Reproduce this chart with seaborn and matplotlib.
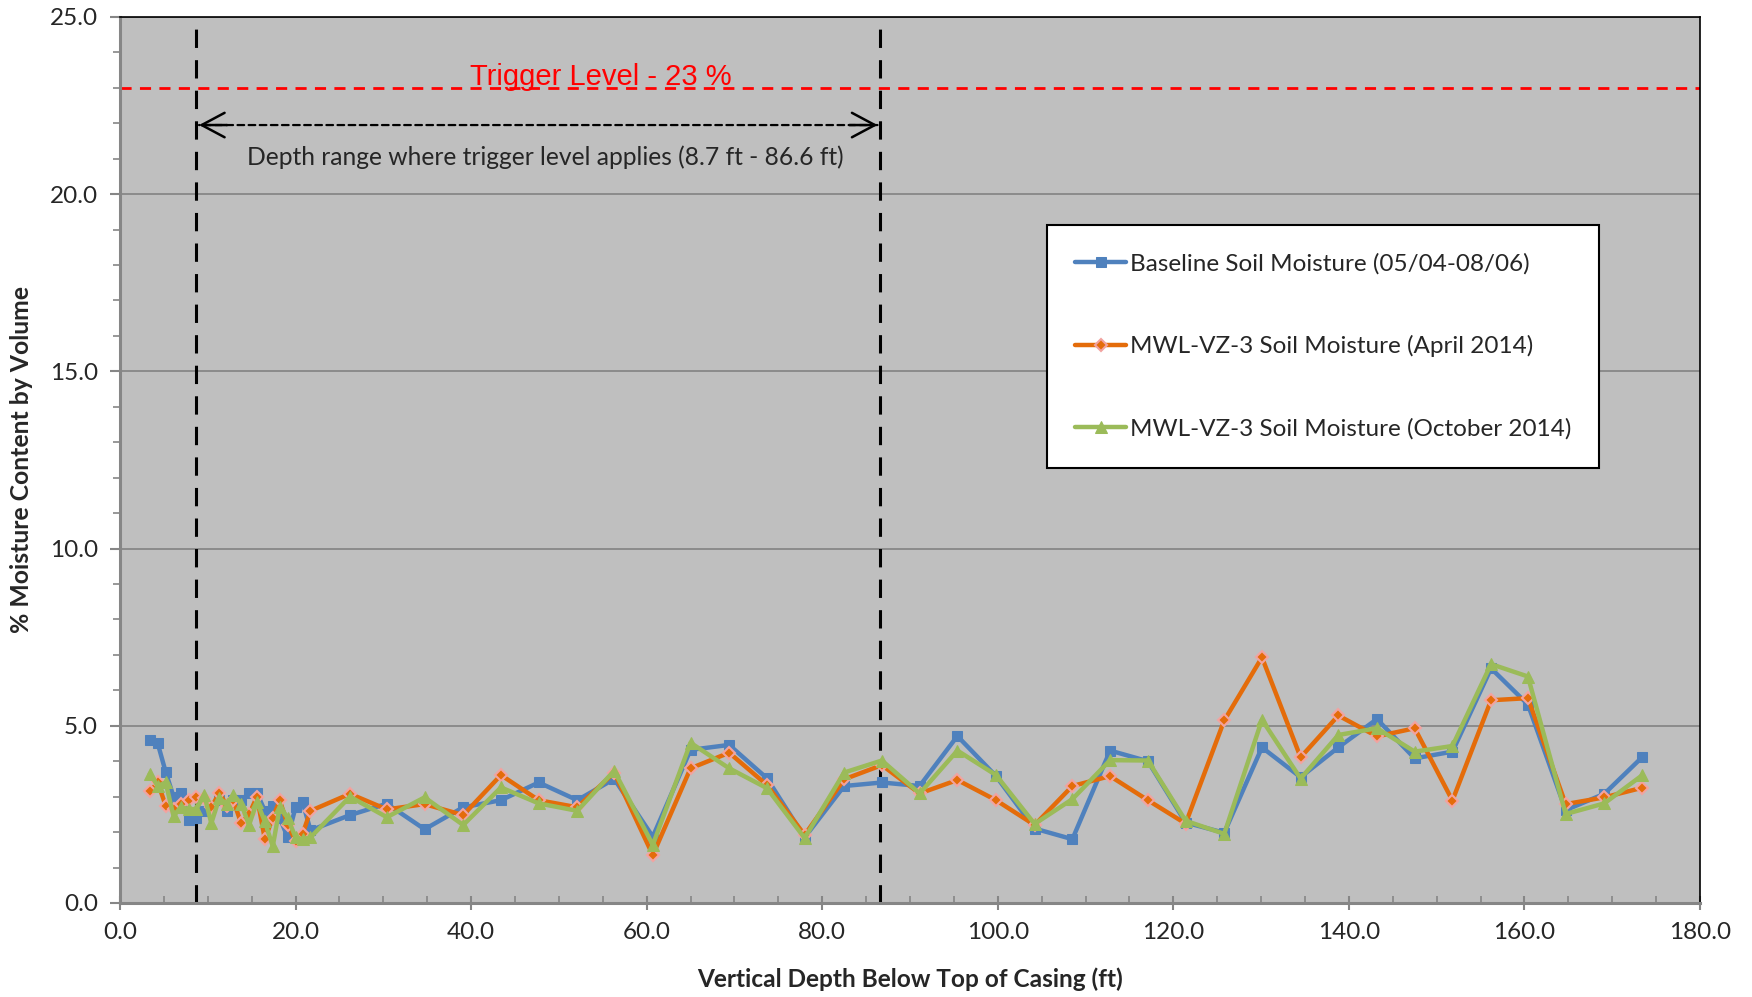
import seaborn as sns
import matplotlib.pyplot as plt
import matplotlib.ticker as mticker
import pandas as pd

# Profundidades (ft) y humedad (%)
depth = [3.4, 4.3, 5.2, 6.1, 6.9, 7.9, 8.7, 9.6, 10.4, 11.3, 12.2, 12.9, 13.8, 14.7,
         15.6, 16.5, 17.4, 18.2, 19.1, 20.0, 20.8, 21.7, 26.2, 30.4, 34.7, 39.1, 43.4,
         47.7, 52.1, 56.3, 60.7, 65.0, 69.4, 73.7, 78.0, 82.5, 86.8, 91.1, 95.4, 99.8,
         104.2, 108.5, 112.8, 117.1, 121.4, 125.8, 130.1, 134.5, 138.8, 143.2, 147.5,
         151.8, 156.2, 160.4, 164.7, 169.1, 173.4]

baseline = [4.6, 4.5, 3.7, 3.0, 3.1, 2.35, 2.4, 2.6, 2.7, 2.9, 2.6, 2.9, 2.9, 3.1,
            3.1, 2.6, 2.75, 2.4, 1.85, 2.7, 2.85, 2.05, 2.48, 2.8, 2.08, 2.7, 2.9,
            3.4, 2.9, 3.5, 1.87, 4.32, 4.46, 3.52, 1.85, 3.3, 3.4, 3.3, 4.71, 3.58,
            2.1, 1.8, 4.3, 4.0, 2.27, 1.98, 4.39, 3.55, 4.39, 5.19, 4.08,
            4.27, 6.62, 5.6, 2.62, 3.08, 4.11]

april = [3.15, 3.4, 2.75, 2.65, 2.8, 2.9, 3.0, 2.95, 2.7, 3.1, 2.75, 2.9, 2.25, 2.5,
         3.0, 1.8, 2.4, 2.9, 2.2, 1.75, 1.95, 2.6, 3.08, 2.64, 2.79, 2.48, 3.61,
         2.9, 2.7, 3.68, 1.35, 3.8, 4.24, 3.33, 1.92, 3.49, 3.89, 3.09, 3.47, 2.9,
         2.2, 3.3, 3.58, 2.9, 2.24, 5.15, 6.93, 4.11, 5.29, 4.7, 4.93,
         2.89, 5.72, 5.78, 2.79, 2.98, 3.25]

october = [3.65, 3.3, 3.4, 2.45, 2.7, 2.65, 2.65, 3.05, 2.25, 2.95, 2.8, 3.05, 2.8, 2.2,
           2.85, 2.3, 1.6, 2.7, 2.4, 1.85, 1.8, 1.85, 3.0, 2.42, 2.98, 2.2, 3.26,
           2.81, 2.6, 3.73, 1.64, 4.52, 3.8, 3.24, 1.83, 3.68, 4.02, 3.09, 4.3, 3.61,
           2.23, 2.93, 4.03, 4.02, 2.32, 1.95, 5.17, 3.51, 4.74, 4.93, 4.27,
           4.43, 6.74, 6.39, 2.51, 2.81, 3.6]

labels = ["Baseline Soil Moisture (05/04-08/06)",
          "MWL-VZ-3 Soil Moisture (April 2014)",
          "MWL-VZ-3 Soil Moisture (October 2014)"]

trigger = 23.0
depth_lo, depth_hi = 8.7, 86.6

sns.set_theme(style="white")
plt.rcParams['font.family'] = ['Lato', 'DejaVu Sans']

fig = plt.figure(figsize=(17.52, 9.97), dpi=100)
ax = fig.add_axes([0.0685, 0.0943, 0.9018, 0.8887])
ax.set_facecolor("#BFBFBF")

df = pd.DataFrame({"depth": depth, "base": baseline, "apr": april, "oct": october})

sns.lineplot(data=df, x="depth", y="base", ax=ax, color="#4F81BD", lw=3.2,
             marker="s", markersize=7, markeredgecolor="#4F81BD", label=labels[0], zorder=3)
sns.lineplot(data=df, x="depth", y="apr", ax=ax, color="#E46C0A", lw=3.2,
             marker="D", markersize=6, markerfacecolor="#E46C0A", markeredgecolor="#F2A3A0",
             markeredgewidth=1.5, label=labels[1], zorder=4)
sns.lineplot(data=df, x="depth", y="oct", ax=ax, color="#9BBB59", lw=3.2,
             marker="^", markersize=8, markeredgecolor="#9BBB59", label=labels[2], zorder=5)

# linea de nivel de disparo y rango de profundidad
ax.axhline(trigger, color="#FF0000", lw=2, ls=(0, (4, 3)), zorder=2)
ax.text(54.8, trigger + 0.3, "Trigger Level - 23 %", color="#FF0000", fontsize=21,
        family="Liberation Sans", ha="center", va="center")
for xv in (depth_lo, depth_hi):
    ax.axvline(xv, color="black", lw=2.2, ls=(0, (6, 4)), zorder=2)

arrow_y = 21.95
# cuerpo punteado de la flecha y puntas solidas
ax.annotate("", xy=(depth_lo + 0.3, arrow_y), xytext=(depth_hi - 0.3, arrow_y),
            arrowprops=dict(arrowstyle="-", color="black", lw=1.6, ls=(0, (3, 2)),
                            shrinkA=0, shrinkB=0))
for tip, tail in ((depth_lo + 0.3, depth_lo + 3.5), (depth_hi - 0.3, depth_hi - 3.5)):
    ax.annotate("", xy=(tip, arrow_y), xytext=(tail, arrow_y),
                arrowprops=dict(arrowstyle="->,head_length=0.75,head_width=0.4", color="black",
                                lw=1.8, mutation_scale=22, shrinkA=0, shrinkB=0))
ax.text(48.5, 21.05, "Depth range where trigger level applies (8.7 ft - 86.6 ft)",
        fontsize=17.7, ha="center", va="center")

ax.set_xlim(0, 180)
ax.set_ylim(0, 25)
ax.xaxis.set_major_locator(mticker.MultipleLocator(20))
ax.xaxis.set_minor_locator(mticker.MultipleLocator(5))
ax.yaxis.set_major_locator(mticker.MultipleLocator(5))
ax.yaxis.set_minor_locator(mticker.MultipleLocator(1))
ax.xaxis.set_major_formatter(mticker.FormatStrFormatter("%.1f"))
ax.yaxis.set_major_formatter(mticker.FormatStrFormatter("%.1f"))
ax.grid(axis="y", which="major", color="#878787", lw=1.3)
ax.set_axisbelow(True)

ax.tick_params(axis="x", which="major", direction="inout", length=10, width=1.5,
               color="#868686", labelsize=17.5, pad=9)
ax.tick_params(axis="x", which="minor", direction="in", length=5, width=1.2, color="#868686")
ax.tick_params(axis="y", which="major", direction="out", length=7, width=1.5,
               color="#868686", labelsize=17.5, pad=9)
ax.tick_params(axis="y", which="minor", direction="out", length=5, width=1.2, color="#868686")
ax.tick_params(which="both", bottom=True, left=True)

for side in ("left", "bottom"):
    ax.spines[side].set_color("#868686")
    ax.spines[side].set_linewidth(2.2)
for side in ("top", "right"):
    ax.spines[side].set_color("black")
    ax.spines[side].set_linewidth(1.2)

ax.set_xlabel("Vertical Depth Below Top of Casing (ft)", fontsize=17.6, fontweight="bold", labelpad=17)
ax.set_ylabel("% Moisture Content by Volume", fontsize=17.8, fontweight="bold", labelpad=12)

leg = ax.legend(loc="upper left", bbox_to_anchor=(0.587, 0.765), fontsize=17.5,
                frameon=True, fancybox=False, framealpha=1, edgecolor="black",
                handlelength=2.1, handletextpad=0.15, labelspacing=2.5, borderpad=1.15,
                borderaxespad=0)
leg.get_frame().set_linewidth(1.5)

fig.savefig("out.png", dpi=100, facecolor="white")
